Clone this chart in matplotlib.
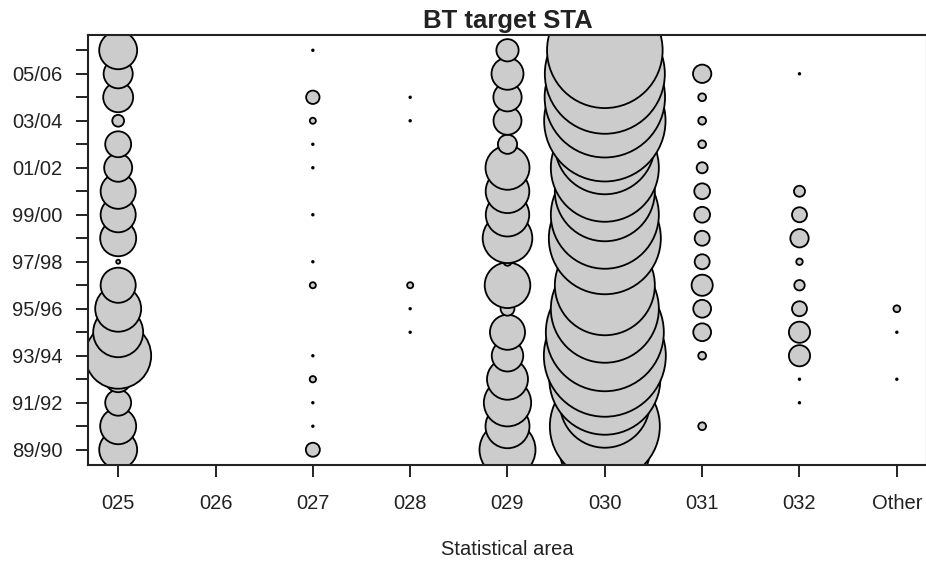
import matplotlib
matplotlib.use("Agg")
import matplotlib.pyplot as plt
import numpy as np

plt.rcParams['font.family'] = ['Liberation Sans', 'DejaVu Sans']

# ---- data -------------------------------------------------------------
areas = ["025", "026", "027", "028", "029", "030", "031", "032", "Other"]
seasons = ["89/90", "90/91", "91/92", "92/93", "93/94", "94/95", "95/96",
           "96/97", "97/98", "98/99", "99/00", "00/01", "01/02", "02/03",
           "03/04", "04/05", "05/06", "06/07"]

# catch index per season (89/90 ... 06/07) for each statistical area
catch_025 = [90, 81, 42, 42, 272, 156, 132, 77, 1.0, 81, 77, 77, 49, 42, 8.7, 56, 53, 90]
catch_026 = [0] * 18
catch_027 = [12.3, 0.16, 0.16, 2.5, 0.16, 0, 0, 2.3, 0.16, 0, 0.16, 0, 0.16, 0.16, 2.3, 11.2, 0, 0.16]
catch_028 = [0, 0, 0, 0, 0, 0.16, 0.16, 2.3, 0, 0, 0, 0, 0, 0, 0.16, 0.16, 0, 0]
catch_029 = [196, 121, 140, 105, 62, 77, 12, 130, 4, 154, 118, 119, 121, 23, 49, 50, 64, 31]
catch_030 = [506, 756, 506, 770, 930, 870, 729, 625, 225, 784, 729, 625, 729, 625, 921, 906, 900, 835]
catch_031 = [0, 3.8, 0, 0, 3.8, 19.8, 19.8, 28, 14, 14, 15.6, 15.6, 7.6, 3.8, 3.8, 3.8, 21, 0]
catch_032 = [0, 0, 0.16, 0.16, 28, 28, 14, 6.8, 2.6, 21, 14, 7.6, 0, 0, 0, 0, 0.16, 0]
catch_other = [0, 0, 0, 0.16, 0, 0.16, 2.9, 0, 0, 0, 0, 0, 0, 0, 0, 0, 0, 0]

catch_by_area = [catch_025, catch_026, catch_027, catch_028, catch_029,
                 catch_030, catch_031, catch_032, catch_other]

# ---- figure -----------------------------------------------------------
W, H = 926, 564
fig = plt.figure(figsize=(W / 100, H / 100), dpi=100)
ax = fig.add_axes([88 / W, 1 - 465 / H, (927 - 88) / W, (465 - 35) / H])

RSCALE = 2.0  # pixel radius per sqrt(catch unit)
size_factor = (2 * RSCALE * 72 / 100) ** 2

xs, ys, ss = [], [], []
for i, vals in enumerate(catch_by_area):
    for j, v in enumerate(vals):
        if v > 0:
            xs.append(i)
            ys.append(j)
            ss.append(v * size_factor)

ax.scatter(xs, ys, s=ss, facecolor="#cccccc", edgecolor="black",
           linewidth=1.3, zorder=2)

ax.set_xlim(-0.31, len(areas) - 1 + 0.31)
ax.set_ylim(-0.65, len(seasons) - 1 + 0.65)

ax.set_xticks(range(len(areas)))
ax.set_xticklabels(areas)
ax.set_yticks(range(len(seasons)))
ax.set_yticklabels([s if k % 2 == 0 else "" for k, s in enumerate(seasons)])

for sp in ax.spines.values():
    sp.set_linewidth(1.5)
    sp.set_color("#222222")

ax.tick_params(axis="both", direction="out", length=8.6, width=1.4,
               color="#222222", labelsize=14.5, labelcolor="#222222")
ax.tick_params(axis="y", pad=10)
ax.tick_params(axis="x", pad=12)

ax.set_title("BT target STA", fontsize=18.5, fontweight="bold", pad=5,
             color="#222222")
ax.set_xlabel("Statistical area", fontsize=14.5, labelpad=20, color="#222222")

fig.savefig("out.png", dpi=100)
